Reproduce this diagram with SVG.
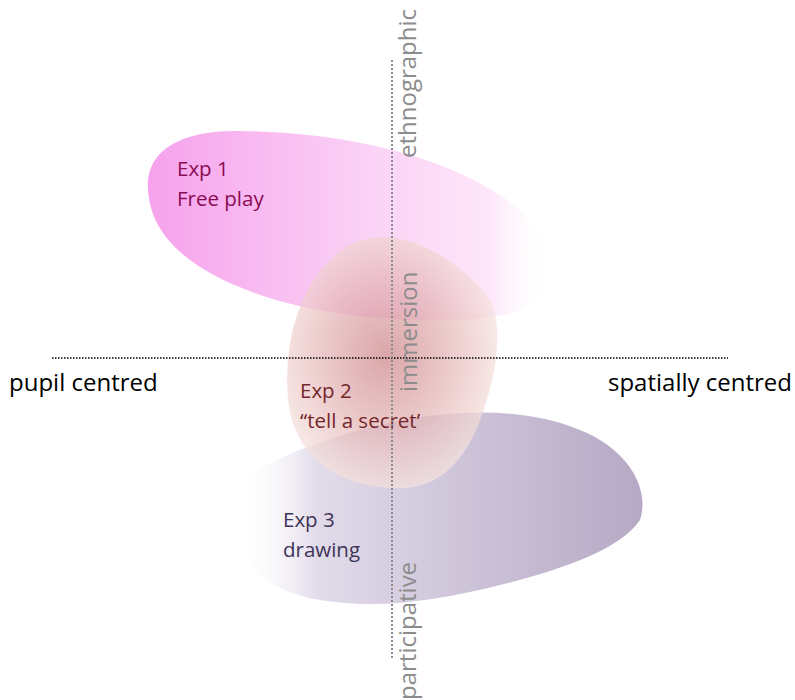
<svg xmlns="http://www.w3.org/2000/svg" width="795" height="700" viewBox="0 0 795 700">
  <defs>
    <linearGradient id="g-exp1" x1="0" y1="0" x2="1" y2="0">
      <stop offset="0" stop-color="#f6a2ec"/>
      <stop offset="0.55" stop-color="#fbd2f6"/>
      <stop offset="0.85" stop-color="#fde6f9"/>
      <stop offset="1" stop-color="#ffffff" stop-opacity="0"/>
    </linearGradient>
    <radialGradient id="g-exp2" cx="0.47" cy="0.47" r="0.6">
      <stop offset="0" stop-color="#cc8488"/>
      <stop offset="0.45" stop-color="#e2b0b2"/>
      <stop offset="0.85" stop-color="#f3dcd8"/>
      <stop offset="1" stop-color="#faf0ee"/>
    </radialGradient>
    <linearGradient id="g-exp3" x1="0" y1="0" x2="1" y2="0">
      <stop offset="0" stop-color="#ffffff" stop-opacity="0"/>
      <stop offset="0.2" stop-color="#e0d9e9"/>
      <stop offset="1" stop-color="#b1a4c1"/>
    </linearGradient>
    <style>
      .lbl { font-family: "Open Sans", "Liberation Sans", sans-serif; font-size: 20.5px; }
      .axis { font-family: "Open Sans", "Liberation Sans", sans-serif; font-size: 24px; fill: #000; }
      .vaxis { font-family: "Open Sans", "Liberation Sans", sans-serif; font-size: 24px; fill: #8c8c8c; }
    </style>
  </defs>

  <!-- blobs -->
  <g id="exp1">
    <path d="M148,190 C145,140 200,130 240,131 C330,132 430,150 500,195 C560,235 565,290 520,310 C490,322 430,322 380,318 C300,312 230,290 190,260 C160,237 150,215 148,190 Z" fill="url(#g-exp1)"/>
    <text class="lbl" fill="#8a0c52" x="177" y="176">Exp 1</text>
    <text class="lbl" fill="#8a0c52" x="177" y="206">Free play</text>
  </g>
  <g id="exp3">
    <path d="M236,500 C240,470 300,445 380,425 C440,410 520,405 580,430 C630,450 650,490 640,520 C620,550 560,570 500,585 C440,600 380,610 320,600 C260,590 232,560 236,500 Z" fill="url(#g-exp3)" fill-opacity="0.95"/>
    <text class="lbl" fill="#3e3458" x="283" y="527">Exp 3</text>
    <text class="lbl" fill="#3e3458" x="283" y="557">drawing</text>
  </g>
  <g id="exp2">
    <path d="M380,237 C420,235 470,270 490,300 C505,330 495,380 480,420 C465,460 440,488 400,488 C340,488 295,460 288,400 C283,340 300,290 330,260 C345,245 360,238 380,237 Z" fill="url(#g-exp2)" fill-opacity="0.72"/>
    <text class="lbl" fill="#74262a" x="300" y="398">Exp 2</text>
    <text class="lbl" fill="#74262a" x="300" y="428">“tell a secret’</text>
  </g>

  <!-- axes -->
  <g id="axes">
    <line x1="52" y1="358" x2="728" y2="358" stroke="#000" stroke-width="1.6" stroke-dasharray="1.5 1.5"/>
    <line x1="392" y1="60" x2="392" y2="660" stroke="#8c8c8c" stroke-width="2" stroke-dasharray="2 2"/>
  </g>

  <g id="axis-labels">
    <text class="axis" x="9" y="391">pupil centred</text>
    <text class="axis" x="792" y="391" text-anchor="end">spatially centred</text>
    <text class="vaxis" transform="translate(416,158) rotate(-90)">ethnographic</text>
    <text class="vaxis" transform="translate(417,392) rotate(-90)">immersion</text>
    <text class="vaxis" transform="translate(416,700) rotate(-90)">participative</text>
  </g>
</svg>
